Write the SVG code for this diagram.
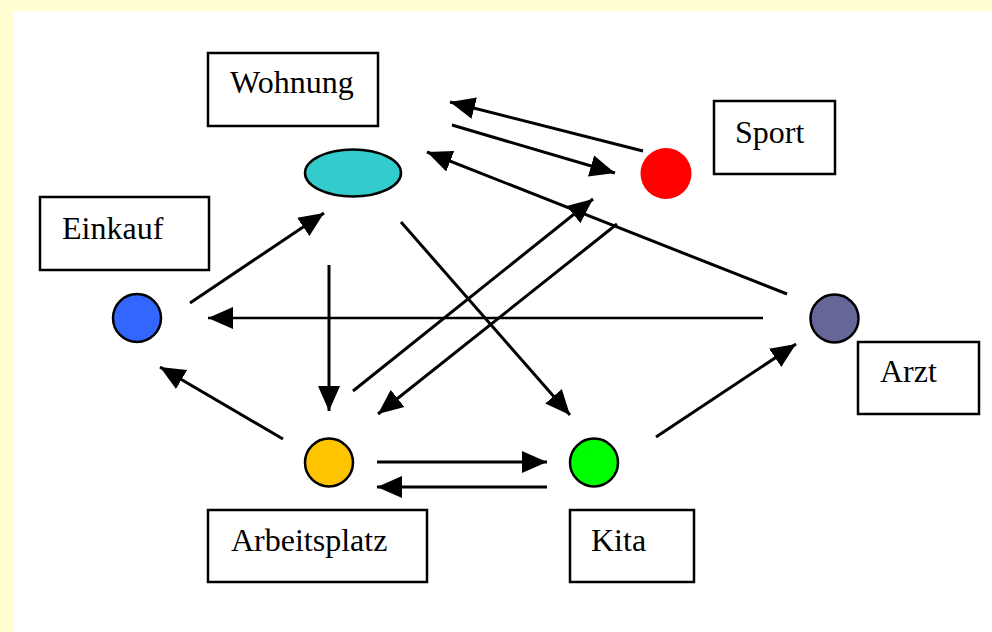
<svg xmlns="http://www.w3.org/2000/svg" width="992" height="632" viewBox="0 0 992 632">
<style>
.box{fill:#fff;stroke:#000;stroke-width:2.5}
.lbl{font-family:"Liberation Serif","Times New Roman",serif;font-size:32px;fill:#000}
.node{stroke:#000;stroke-width:2.5}
.con line{stroke:#000;stroke-width:3;marker-end:url(#ah)}
</style>
<defs>
<marker id="ah" markerUnits="userSpaceOnUse" markerWidth="26" markerHeight="24" refX="25" refY="12" orient="auto" viewBox="0 0 26 24">
<path d="M0,1 L25,12 L0,23 z" fill="#000"/>
</marker>
</defs>
<rect x="0" y="0" width="992" height="632" fill="#FFFFD2"/>
<rect x="13" y="11" width="979" height="621" fill="#fff"/>
<g id="connectors" class="con">
<line x1="643" y1="151" x2="450" y2="102"/>
<line x1="452" y1="125" x2="615" y2="173"/>
<line x1="787" y1="294" x2="427" y2="152"/>
<line x1="190" y1="303" x2="324" y2="213"/>
<line x1="763" y1="318" x2="208" y2="318" style="stroke-width:2.5"/>
<line x1="329" y1="265" x2="329" y2="411"/>
<line x1="401" y1="222" x2="570" y2="415"/>
<line x1="617" y1="224" x2="378" y2="414"/>
<line x1="353" y1="391" x2="593" y2="199"/>
<line x1="283" y1="439" x2="160" y2="367"/>
<line x1="377" y1="462" x2="547" y2="462"/>
<line x1="547" y1="487" x2="377" y2="487"/>
<line x1="656" y1="437" x2="796" y2="344"/>
</g>
<g id="wohnung">
<rect class="box" x="208" y="53" width="170" height="73"/>
<text class="lbl" x="230" y="93">Wohnung</text>
<ellipse class="node" cx="353" cy="173" rx="48" ry="23.5" fill="#33CCCC"/>
</g>
<g id="sport">
<rect class="box" x="714" y="101" width="121" height="73"/>
<text class="lbl" x="735" y="143">Sport</text>
<circle cx="666" cy="173.5" r="25.5" fill="#FF0000"/>
</g>
<g id="einkauf">
<rect class="box" x="40" y="197" width="169" height="73"/>
<text class="lbl" x="62" y="239">Einkauf</text>
<circle class="node" cx="137" cy="318" r="24" fill="#3366FF"/>
</g>
<g id="arzt">
<rect class="box" x="858" y="342" width="121" height="72"/>
<text class="lbl" x="880" y="382">Arzt</text>
<circle class="node" cx="834.5" cy="318.5" r="24" fill="#666699"/>
</g>
<g id="arbeitsplatz">
<rect class="box" x="208" y="510" width="219" height="72"/>
<text class="lbl" x="231" y="551">Arbeitsplatz</text>
<circle class="node" cx="329" cy="462.5" r="24" fill="#FFC400"/>
</g>
<g id="kita">
<rect class="box" x="570" y="510" width="124" height="72"/>
<text class="lbl" x="591" y="551">Kita</text>
<circle class="node" cx="594" cy="462.5" r="24" fill="#00FF00"/>
</g>
</svg>
